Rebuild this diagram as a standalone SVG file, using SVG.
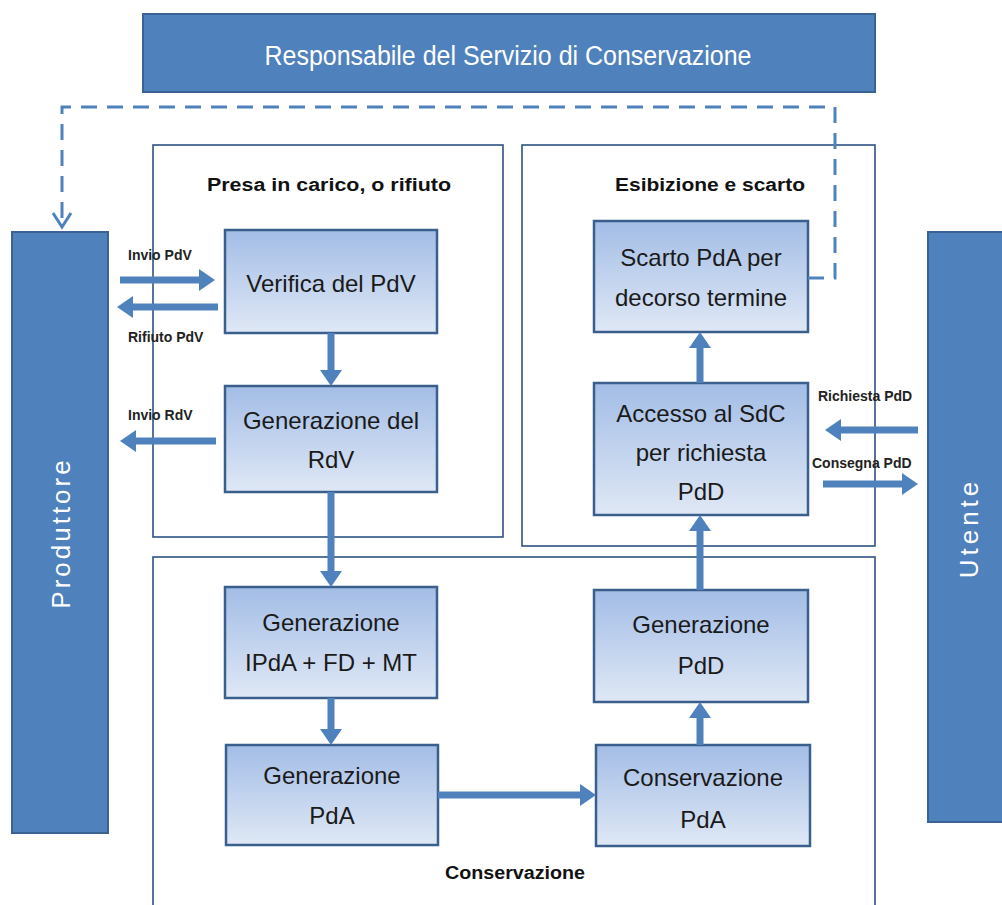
<svg xmlns="http://www.w3.org/2000/svg" width="1002" height="905" viewBox="0 0 1002 905">
<defs>
<linearGradient id="g" x1="0" y1="0" x2="0" y2="1">
<stop offset="0" stop-color="#a3bde6"/>
<stop offset="1" stop-color="#dfe8f5"/>
</linearGradient>
<marker id="ah" markerUnits="userSpaceOnUse" markerWidth="16" markerHeight="22" refX="4" refY="11" orient="auto">
<path d="M0,0 L16,11 L0,22 z" fill="#4f81bd"/>
</marker>
<style>
.panel{fill:#fff;stroke:#2e5283;stroke-width:1.6}
.node{fill:url(#g);stroke:#3b5f8c;stroke-width:2.5}
.nt{font-family:"Liberation Sans",Arial,sans-serif;font-size:24px;fill:#1a1a1a;text-anchor:middle}
.pt{font-family:"Liberation Sans",Arial,sans-serif;font-size:18px;font-weight:bold;fill:#111;text-anchor:middle}
.lb{font-family:"Liberation Sans",Arial,sans-serif;font-size:14px;font-weight:bold;fill:#222}
.arr{stroke:#4f81bd;stroke-width:7;fill:none;marker-end:url(#ah)}
.col{fill:#4f81bd;stroke:#3a6394;stroke-width:2}
.wt{font-family:"Liberation Sans",Arial,sans-serif;fill:#fff;text-anchor:middle}
</style>
</defs>
<rect width="1002" height="905" fill="#fff"/>

<g id="responsabile">
<rect x="143" y="14" width="732" height="78" class="col"/>
<text x="508" y="65" class="wt" font-size="27" textLength="487" lengthAdjust="spacingAndGlyphs">Responsabile del Servizio di Conservazione</text>
</g>

<g id="panel-presa">
<rect x="153" y="145" width="350" height="392" class="panel"/>
<text x="329" y="191" class="pt" textLength="244" lengthAdjust="spacingAndGlyphs">Presa in carico,  o rifiuto</text>
</g>
<g id="panel-esibizione">
<rect x="522" y="145" width="353" height="401" class="panel"/>
<text x="710" y="191" class="pt" textLength="190" lengthAdjust="spacingAndGlyphs">Esibizione e scarto</text>
</g>
<g id="panel-conservazione">
<rect x="153" y="557" width="722" height="360" class="panel"/>
<text x="515" y="879" class="pt" textLength="140" lengthAdjust="spacingAndGlyphs">Conservazione</text>
</g>

<g id="produttore">
<rect x="12" y="232" width="96" height="601" class="col"/>
<text x="0" y="0" class="wt" font-size="26" letter-spacing="3" transform="translate(70,533) rotate(-90)">Produttore</text>
</g>
<g id="utente">
<rect x="928" y="232" width="80" height="590" class="col"/>
<text x="0" y="0" class="wt" font-size="26" letter-spacing="4" transform="translate(978,528) rotate(-90)">Utente</text>
</g>

<g id="verifica">
<rect x="225" y="230" width="212" height="103" class="node"/>
<text x="331" y="292" class="nt">Verifica del PdV</text>
</g>
<g id="gen-rdv">
<rect x="225" y="386" width="212" height="106" class="node"/>
<text x="331" y="429" class="nt">Generazione del</text>
<text x="331" y="468" class="nt">RdV</text>
</g>
<g id="gen-ipda">
<rect x="225" y="587" width="212" height="111" class="node"/>
<text x="331" y="631" class="nt">Generazione</text>
<text x="331" y="671" class="nt">IPdA + FD + MT</text>
</g>
<g id="gen-pda">
<rect x="226" y="745" width="212" height="100" class="node"/>
<text x="332" y="784" class="nt">Generazione</text>
<text x="332" y="824" class="nt">PdA</text>
</g>
<g id="scarto">
<rect x="594" y="221" width="214" height="111" class="node"/>
<text x="701" y="266" class="nt">Scarto PdA per</text>
<text x="701" y="306" class="nt">decorso termine</text>
</g>
<g id="accesso">
<rect x="594" y="383" width="214" height="132" class="node"/>
<text x="701" y="422" class="nt">Accesso al SdC</text>
<text x="701" y="461" class="nt">per richiesta</text>
<text x="701" y="500" class="nt">PdD</text>
</g>
<g id="gen-pdd">
<rect x="594" y="590" width="214" height="112" class="node"/>
<text x="701" y="633" class="nt">Generazione</text>
<text x="701" y="674" class="nt">PdD</text>
</g>
<g id="cons-pda">
<rect x="596" y="745" width="214" height="101" class="node"/>
<text x="703" y="786" class="nt">Conservazione</text>
<text x="703" y="828" class="nt">PdA</text>
</g>

<g id="connectors">
<line x1="331" y1="333" x2="331" y2="374" class="arr"/>
<line x1="331" y1="492" x2="331" y2="575" class="arr"/>
<line x1="331" y1="698" x2="331" y2="733" class="arr"/>
<line x1="438" y1="795" x2="584" y2="795" class="arr"/>
<line x1="700" y1="745" x2="700" y2="714" class="arr"/>
<line x1="700" y1="590" x2="700" y2="527" class="arr"/>
<line x1="700" y1="383" x2="700" y2="344" class="arr"/>
<line x1="120" y1="280" x2="203" y2="280" class="arr"/>
<line x1="218" y1="307" x2="129" y2="307" class="arr"/>
<line x1="216" y1="441" x2="132" y2="441" class="arr"/>
<line x1="918" y1="430" x2="837" y2="430" class="arr"/>
<line x1="823" y1="484" x2="906" y2="484" class="arr"/>
<path d="M808,278 H835 V107 H62 V226" fill="none" stroke="#4f81bd" stroke-width="3" stroke-dasharray="16 10"/>
<polyline points="53,213 62,227 71,213" fill="none" stroke="#4f81bd" stroke-width="3"/>
<text x="128" y="260" class="lb">Invio PdV</text>
<text x="128" y="342" class="lb">Rifiuto PdV</text>
<text x="128" y="420" class="lb">Invio RdV</text>
<text x="818" y="401" class="lb">Richiesta PdD</text>
<text x="812" y="468" class="lb">Consegna PdD</text>
</g>
</svg>
